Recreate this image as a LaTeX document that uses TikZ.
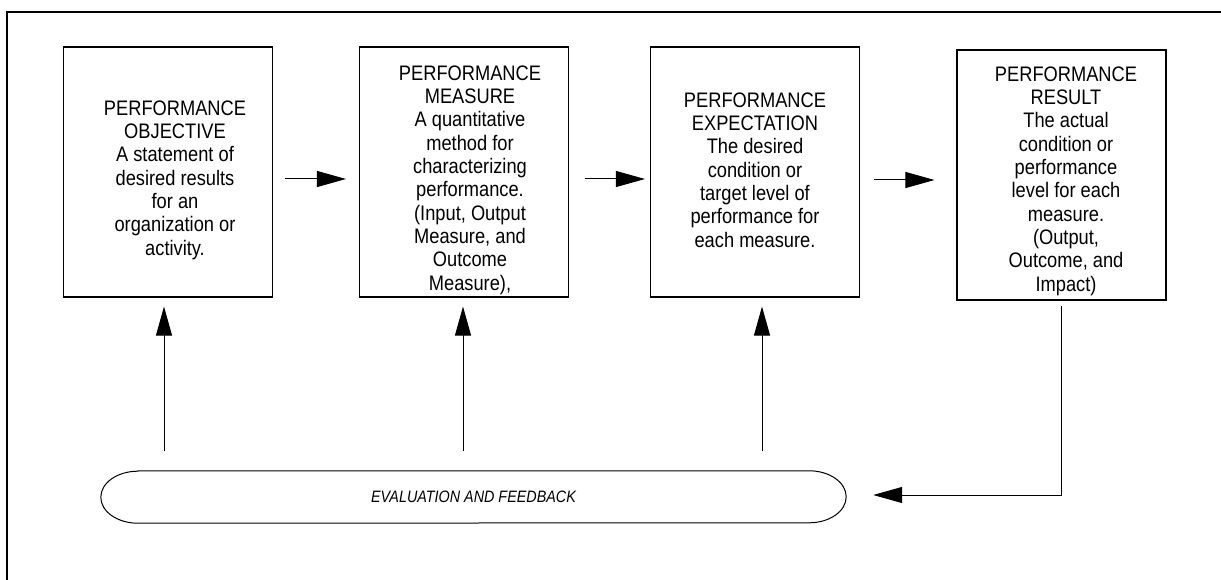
\documentclass[tikz,border=0pt]{standalone}
\usepackage{fontspec}
\setmainfont{Liberation Sans}
\newfontfamily\boxfont[FakeStretch=0.87]{Liberation Sans}
\usetikzlibrary{arrows.meta,calc}

\tikzset{
  stagebox/.style={draw, line width=1.1pt, inner sep=0pt,
    minimum width=209pt, minimum height=250pt},
  stagetext/.style={align=center, inner sep=0pt,
    font=\boxfont\fontsize{21}{23.3}\selectfont},
  flow/.style={line width=1pt, -{Triangle[length=29pt,width=16pt]}},
  loopname/.style={inner sep=0pt, minimum width=745pt, minimum height=52pt,
    font=\boxfont\itshape\fontsize{16.5}{18}\selectfont},
}

\begin{document}
\begin{tikzpicture}[x=1pt,y=-1pt]
  \useasboundingbox (0,0) rectangle (1221,580);
  \clip (0,0) rectangle (1221,580);
  \fill[white] (0,0) rectangle (1221,580);

  % outer frame, running past the right and bottom edges
  \draw[line width=2.5pt] (7,600) -- (7,12) -- (1240,12);

  % the four stages
  \node[stagebox] (b1) at (168,172)    {};
  \node[stagebox] (b2) at (464,172)    {};
  \node[stagebox] (b3) at (755,172)    {};
  \node[stagebox] (b4) at (1061.5,175) {};

  \node[stagetext] (t1) at (175,180) {PERFORMANCE\\OBJECTIVE\\A statement of\\desired results\\for an\\organization or\\activity.};
  \node[stagetext] (t2) at (470,180) {PERFORMANCE\\MEASURE\\A quantitative\\method for\\characterizing\\performance.\\(Input, Output\\Measure, and\\Outcome\\Measure),};
  \node[stagetext] (t3) at (755,170) {PERFORMANCE\\EXPECTATION\\The desired\\condition or\\target level of\\performance for\\each measure.};
  \node[stagetext] (t4) at (1066,181) {PERFORMANCE\\RESULT\\The actual\\condition or\\performance\\level for each\\measure.\\(Output,\\Outcome, and\\Impact)};

  % evaluation loop: a bar with elliptic ends
  \node[loopname] (ev) at (473.5,497) {EVALUATION AND FEEDBACK};
  \draw[line width=1pt]
    ($(ev.north west)+(37,0)$) -- ($(ev.north east)+(-37,0)$)
    arc[start angle=-90, end angle=90, x radius=37, y radius=26]
    -- ($(ev.south west)+(37,0)$)
    arc[start angle=90, end angle=270, x radius=37, y radius=26] -- cycle;

  % forward arrows between stages
  \coordinate (h1) at ($(b1.east)+(0,7)$);
  \coordinate (h2) at ($(b2.east)+(0,7)$);
  \coordinate (h3) at ($(b3.east)+(0,8)$);
  \draw[flow, shorten <=12pt, shorten >=13pt] (h1) -- (h1 -| b2.west);
  \draw[flow, shorten <=16pt, shorten >=5pt]  (h2) -- (h2 -| b3.west);
  \draw[flow, shorten <=14pt, shorten >=22pt] (h3) -- (h3 -| b4.west);

  % feedback arrows rising from the evaluation loop
  \coordinate (u1) at ($(b1.south)+(-4,0)$);
  \coordinate (u2) at ($(b2.south)+(-1,0)$);
  \coordinate (u3) at ($(b3.south)+(7,0)$);
  \draw[flow, shorten <=20pt, shorten >=9pt] (u1 |- ev.north) -- (u1);
  \draw[flow, shorten <=20pt, shorten >=9pt] (u2 |- ev.north) -- (u2);
  \draw[flow, shorten <=20pt, shorten >=9pt] (u3 |- ev.north) -- (u3);

  % results return to the evaluation loop
  \coordinate (r0) at ($(b4.south)+(0,0)$);
  \coordinate (r1) at ($(ev.east)+(0,-2)$);
  \draw[flow, shorten <=5pt, shorten >=27pt] (r0) |- (r1);
\end{tikzpicture}
\end{document}
